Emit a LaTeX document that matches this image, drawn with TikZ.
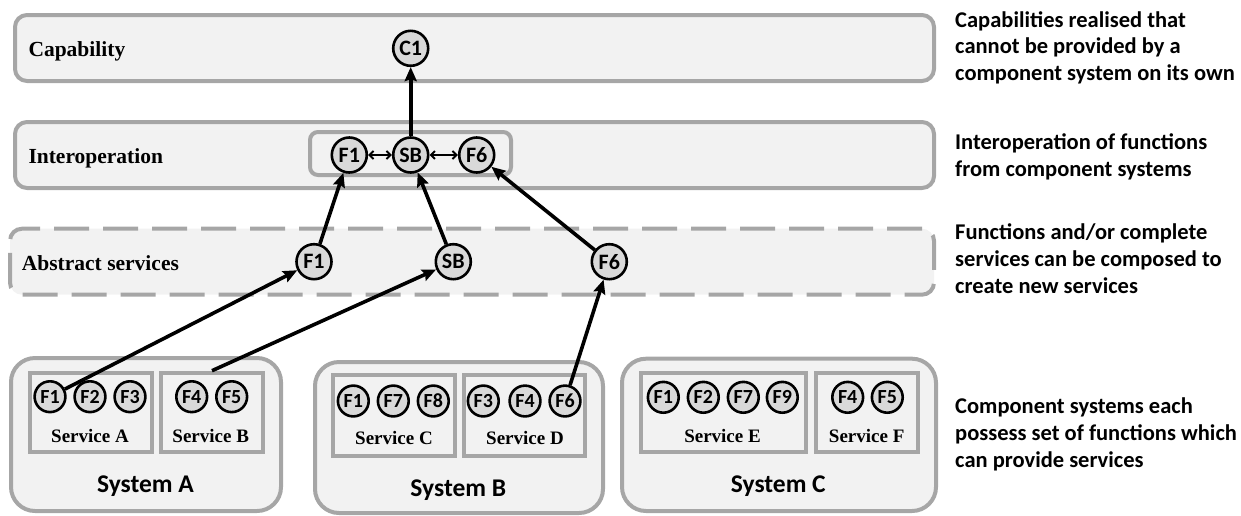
\documentclass[tikz,border=0pt]{standalone}
\usepackage{fontspec}
\setmainfont{Liberation Serif}
\newfontfamily\calib{Carlito}
\usetikzlibrary{arrows.meta}
\definecolor{edgegray}{HTML}{A6A6A6}
\definecolor{panelfill}{HTML}{F2F2F2}
\definecolor{fnfill}{HTML}{D9D9D9}
\tikzset{
  band/.style={draw=edgegray, line width=4pt, fill=panelfill, rounded corners=12pt, inner sep=0pt},
  dashband/.style={band, dash pattern=on 35pt off 14pt},
  svcbox/.style={draw=edgegray, line width=4pt, fill=panelfill, inner sep=0pt},
  sysbox/.style={draw=edgegray, line width=4pt, fill=panelfill, rounded corners=24pt, inner sep=0pt},
  fn/.style={circle, draw=black, line width=2.6pt, fill=fnfill, inner sep=0pt,
    minimum size=30.8pt, font=\calib\bfseries\fontsize{20}{20}\selectfont},
  bigfn/.style={fn, minimum size=35pt, font=\calib\bfseries\fontsize{22}{22}\selectfont},
  layerlabel/.style={anchor=base west, inner sep=0pt, font=\bfseries\fontsize{21.5}{21.5}\selectfont},
  svclabel/.style={inner sep=0pt, font=\bfseries\fontsize{19}{19}\selectfont},
  syslabel/.style={inner sep=0pt, font=\calib\bfseries\fontsize{25.5}{25.5}\selectfont},
  note/.style={anchor=north west, inner sep=0pt, align=left,
    font=\calib\bfseries\fontsize{22.5}{26.8}\selectfont},
  link/.style={line width=3.6pt, -{Stealth[length=14pt,width=12pt,inset=2pt]}},
  twoway/.style={line width=2pt, {Straight Barb[length=4pt,width=8pt]}-{Straight Barb[length=4pt,width=8pt]}}
}
\begin{document}
\begin{tikzpicture}[x=1pt,y=-1pt]
\useasboundingbox (0,0) rectangle (1241,515);

% layer bands
\node[band, minimum width=919pt, minimum height=66pt] (capband) at (474.5,48) {};
\node[band, minimum width=919pt, minimum height=66pt] (intband) at (474.5,155) {};
\node[dashband, minimum width=924pt, minimum height=66pt] (absband) at (472,261.7) {};
\node[band, rounded corners=8pt, minimum width=201pt, minimum height=43pt] (intbox) at (410.5,153.5) {};

\node[layerlabel] (capname) at (28.3,56.5) {Capability};
\node[layerlabel] (intname) at (28.3,163) {Interoperation};
\node[layerlabel] (absname) at (21.7,270) {Abstract services};

% component systems
\node[sysbox, minimum width=270pt, minimum height=153pt] (sysA) at (146,434.5) {};
\node[sysbox, minimum width=288pt, minimum height=151pt] (sysB) at (459,437.5) {};
\node[sysbox, minimum width=314pt, minimum height=152.3pt] (sysC) at (779,434.85) {};

\node[svcbox, minimum width=122pt, minimum height=79.3pt] (svcA) at (91,412.35) {};
\node[svcbox, minimum width=102pt, minimum height=79.3pt] (svcB) at (212,412.35) {};
\node[svcbox, minimum width=122pt, minimum height=81pt] (svcC) at (393.7,415.5) {};
\node[svcbox, minimum width=121pt, minimum height=81pt] (svcD) at (524.5,415.5) {};
\node[svcbox, minimum width=165pt, minimum height=79.3pt] (svcE) at (723.5,412.35) {};
\node[svcbox, minimum width=102pt, minimum height=79.3pt] (svcF) at (867,412.35) {};

\node[svclabel] (svcAname) at (90,436) {Service A};
\node[svclabel] (svcBname) at (210.7,436) {Service B};
\node[svclabel] (svcCname) at (394,438) {Service C};
\node[svclabel] (svcDname) at (525,438) {Service D};
\node[svclabel] (svcEname) at (722.5,436) {Service E};
\node[svclabel] (svcFname) at (866.7,436) {Service F};

\node[syslabel] (sysAname) at (145.5,485.7) {System A};
\node[syslabel] (sysBname) at (458.3,490) {System B};
\node[syslabel] (sysCname) at (778.3,485.7) {System C};

% functions of each system
\node[fn] (aF1) at (50,396.7) {F1};
\node[fn] (aF2) at (90,396.7) {F2};
\node[fn] (aF3) at (130,396.7) {F3};
\node[fn] (aF4) at (191.7,396.7) {F4};
\node[fn] (aF5) at (231.7,396.7) {F5};

\node[fn] (bF1) at (353.3,401) {F1};
\node[fn] (bF7) at (393.3,401) {F7};
\node[fn] (bF8) at (433.3,401) {F8};
\node[fn] (bF3) at (483.3,401) {F3};
\node[fn] (bF4) at (525,401) {F4};
\node[fn] (bF6) at (565,401) {F6};

\node[fn] (cF1) at (663.3,397.3) {F1};
\node[fn] (cF2) at (703.3,397.3) {F2};
\node[fn] (cF7) at (743.3,397.3) {F7};
\node[fn] (cF9) at (782.3,397.3) {F9};
\node[fn] (cF4) at (847.7,397.3) {F4};
\node[fn] (cF5) at (887.3,397.3) {F5};

% abstract services
\node[bigfn] (xF1) at (314,261.7) {F1};
\node[bigfn] (xSB) at (453.3,261.7) {SB};
\node[bigfn] (xF6) at (609.3,261.7) {F6};

% interoperation
\node[bigfn] (iF1) at (349.3,155) {F1};
\node[bigfn] (iSB) at (410.7,155) {SB};
\node[bigfn] (iF6) at (476.7,155) {F6};

% capability
\node[bigfn] (C1) at (410.7,48.3) {C1};

% connectors
\draw[link] (aF1) -- (xF1);
\draw[link] (svcB.north) -- (xSB);
\draw[link] (bF6) -- (xF6);
\draw[link] (xF1) -- (iF1);
\draw[link] (xSB) -- (iSB);
\draw[link] (xF6) -- (iF6);
\draw[link] (iSB) -- (C1);
\draw[twoway] (iF1) -- (iSB);
\draw[twoway] (iSB) -- (iF6);

% notes on the right
\node[note] (capnote) at (955,11) {Capabilities realised that\\cannot be provided by a\\component system on its own};
\node[note] (intnote) at (955,133.5) {Interoperation of functions\\from component systems};
\node[note] (absnote) at (955,223.5) {Functions and/or complete\\services can be composed to\\create new services};
\node[note] (sysnote) at (955,398) {Component systems each\\possess set of functions which\\can provide services};
\end{tikzpicture}
\end{document}
